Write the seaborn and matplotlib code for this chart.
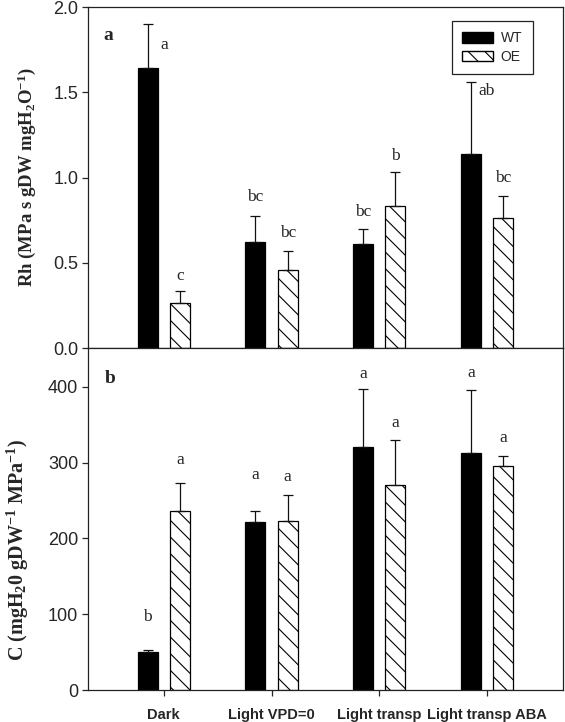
import numpy as np
import pandas as pd
import matplotlib
matplotlib.use('Agg')
import matplotlib.pyplot as plt
from matplotlib.patches import Patch
import seaborn as sns

# --- values ---
treatments = ['Dark', 'Light VPD=0', 'Light transp', 'Light transp ABA']
genotypes = ['WT', 'OE']

rh_wt = [1.64, 0.62, 0.61, 1.14]
rh_wt_err = [0.26, 0.155, 0.09, 0.42]
rh_oe = [0.265, 0.455, 0.83, 0.76]
rh_oe_err = [0.07, 0.115, 0.20, 0.13]
rh_wt_letters = ['a', 'bc', 'bc', 'ab']
rh_oe_letters = ['c', 'bc', 'b', 'bc']

c_wt = [50, 221, 320, 312]
c_wt_err = [3, 15, 77, 84]
c_oe = [236, 223, 270, 296]
c_oe_err = [37, 34, 60, 12]
c_wt_letters = ['b', 'a', 'a', 'a']
c_oe_letters = ['a', 'a', 'a', 'a']

# letter placement (pixels relative to the top of each error bar)
rh_wt_offsets = [(17, -21), (0, 19), (0, 17), (16, -9)]
rh_oe_offsets = [(0, 15), (0, 18), (0, 16), (0, 18)]
c_wt_offsets = [(0, 33), (0, 36), (0, 15), (0, 17)]
c_oe_offsets = [(0, 23), (0, 18), (0, 17), (0, 18)]

sns.set_style('ticks')
plt.rcParams['font.family'] = ['Liberation Sans', 'DejaVu Sans']
plt.rcParams['mathtext.fontset'] = 'custom'
plt.rcParams['mathtext.rm'] = 'Liberation Serif:bold'
plt.rcParams['mathtext.it'] = 'Liberation Serif:bold:italic'
plt.rcParams['mathtext.bf'] = 'Liberation Serif:bold'
plt.rcParams['hatch.linewidth'] = 0.8
plt.rcParams['axes.edgecolor'] = '#222222'
plt.rcParams['axes.linewidth'] = 0.9

HATCH = '\\\\'
SERIF = ['Liberation Serif', 'DejaVu Serif']


def long_table(wt, oe):
    return pd.DataFrame({
        'treatment': treatments * 2,
        'genotype': ['WT'] * len(wt) + ['OE'] * len(oe),
        'value': wt + oe,
    })


def draw_panel(ax, wt, oe, errs, letters, offsets):
    sns.barplot(data=long_table(wt, oe), x='treatment', y='value',
                hue='genotype', order=treatments, hue_order=genotypes,
                palette={'WT': 'black', 'OE': 'white'}, saturation=1,
                width=0.6, gap=0.38, errorbar=None, edgecolor='black',
                linewidth=0.9, legend=False, ax=ax)
    for p in ax.containers[1]:
        p.set_hatch(HATCH)
    for cont, err, lets, offs in zip(ax.containers, errs, letters, offsets):
        xs = [p.get_x() + p.get_width() / 2 for p in cont]
        hs = [p.get_height() for p in cont]
        ax.errorbar(xs, hs, yerr=[np.zeros(len(err)), err], fmt='none',
                    ecolor='#111111', elinewidth=0.9, capsize=3.3,
                    capthick=0.9, zorder=1)
        for x, h, e, lab, (dx, dy) in zip(xs, hs, err, lets, offs):
            ax.annotate(lab, (x, h + e), xytext=(dx, dy),
                        textcoords='offset pixels', ha='center', va='center',
                        family=SERIF, fontsize=12.5)
    ax.set_xlim(-0.703, 3.705)
    ax.set_xlabel('')
    for s in ax.spines.values():
        s.set_visible(True)
    ax.tick_params(axis='y', direction='out', length=4, width=0.9,
                   labelsize=13, pad=3)


fig = plt.figure(figsize=(5.65, 7.22), dpi=100)
ax1 = fig.add_axes([0.1558, 0.518, 0.8407, 0.4723])
ax2 = fig.add_axes([0.1558, 0.0443, 0.8407, 0.4737])

# --- panel a: hydraulic resistance ---
draw_panel(ax1, rh_wt, rh_oe, [rh_wt_err, rh_oe_err],
           [rh_wt_letters, rh_oe_letters], [rh_wt_offsets, rh_oe_offsets])
ax1.set_ylim(0, 2.0)
ax1.set_yticks([0, 0.5, 1.0, 1.5, 2.0])
ax1.set_yticklabels(['0.0', '0.5', '1.0', '1.5', '2.0'])
ax1.tick_params(axis='x', length=0, labelbottom=False)
ax1.set_ylabel(r'Rh (MPa s gDW mgH$_{2}$O$^{-1}$)', family=SERIF,
               fontweight='bold', fontsize=13.5, va='center')
ax1.yaxis.set_label_coords(-0.128, 0.5)
ax1.text(0.042, 0.915, 'a', transform=ax1.transAxes, family=SERIF,
         fontweight='bold', fontsize=14, ha='center', va='center')

handles = [Patch(facecolor='black', edgecolor='black', label='WT'),
           Patch(facecolor='white', edgecolor='black', hatch=HATCH, label='OE')]
leg = ax1.legend(handles=handles, loc='upper left',
                 bbox_to_anchor=(0.766, 0.959), borderaxespad=0,
                 fontsize=10, handlelength=2.2, handleheight=0.75,
                 handletextpad=0.55, labelspacing=0.3, borderpad=0.75,
                 fancybox=False, framealpha=1, edgecolor='#222222')
leg.get_frame().set_linewidth(0.9)

# --- panel b: capacitance ---
draw_panel(ax2, c_wt, c_oe, [c_wt_err, c_oe_err],
           [c_wt_letters, c_oe_letters], [c_wt_offsets, c_oe_offsets])
ax2.set_ylim(0, 451)
ax2.set_yticks([0, 100, 200, 300, 400])
ax2.tick_params(axis='x', direction='out', length=4, width=0.9,
                labelsize=10.5, pad=9)
for t in ax2.get_xticklabels():
    t.set_fontweight('bold')
ax2.set_ylabel(r'C (mgH$_{2}$0 gDW$^{-1}$ MPa$^{-1}$)', family=SERIF,
               fontweight='bold', fontsize=14.5, va='center')
ax2.yaxis.set_label_coords(-0.148, 0.41)
ax2.text(0.046, 0.912, 'b', transform=ax2.transAxes, family=SERIF,
         fontweight='bold', fontsize=14, ha='center', va='center')

fig.savefig('out.png', dpi=100)
